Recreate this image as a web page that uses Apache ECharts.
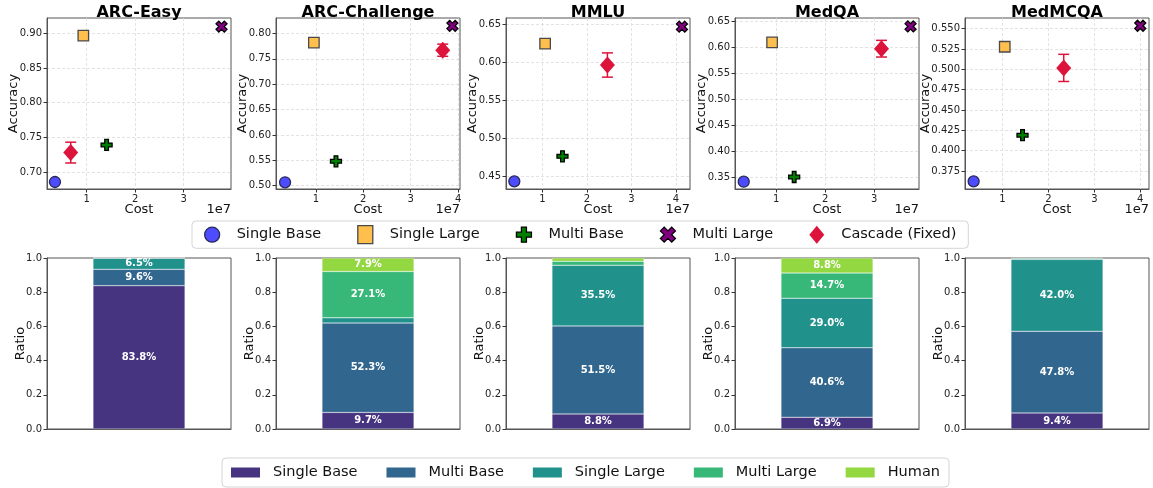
<!DOCTYPE html>
<html><head><meta charset="utf-8">
<script src="https://cdn.jsdelivr.net/npm/echarts@6/dist/echarts.min.js"></script>
<style>html,body{margin:0;padding:0;background:#fff}#c{width:1153px;height:488px}</style>
</head><body><div id="c"></div>
<script>
// ---------- DATA ----------
const datasets = ['ARC-Easy', 'ARC-Challenge', 'MMLU', 'MedQA', 'MedMCQA'];
// cost values are in units of 1e7
const singleBaseCost  = [0.345, 0.350, 0.368, 0.339, 0.373];
const singleBaseAcc   = [0.6856, 0.5066, 0.4430, 0.3423, 0.3622];
const singleLargeCost = [0.930, 0.958, 1.060, 0.918, 1.050];
const singleLargeAcc  = [0.8965, 0.7820, 0.6245, 0.6097, 0.5278];
const multiBaseCost   = [1.410, 1.424, 1.450, 1.368, 1.437];
const multiBaseAcc    = [0.7390, 0.5480, 0.4760, 0.3513, 0.4190];
const multiLargeCost  = [3.780, 3.880, 4.135, 3.743, 4.000];
const multiLargeAcc   = [0.9096, 0.8150, 0.6470, 0.6404, 0.5537];
const cascadeCost     = [0.670, 3.676, 2.460, 3.150, 2.334];
const cascadeAcc      = [0.7280, 0.7670, 0.5964, 0.5976, 0.5018];
const cascadeErr      = [0.0150, 0.0120, 0.0160, 0.0160, 0.0167];

// axis ranges and tick labels
const costMin = [0.181, 0.159, 0.181, 0.161, 0.185];
const costMax = [3.975, 4.040, 4.316, 3.915, 4.190];
const costTicks = [[1, 2, 3], [1, 2, 3, 4], [1, 2, 3, 4], [1, 2, 3], [1, 2, 3, 4]];
const accMin = [0.6755, 0.4934, 0.4329, 0.3283, 0.3528];
const accMax = [0.9220, 0.8305, 0.6584, 0.6565, 0.5632];
const accTicks = [
  [0.70, 0.75, 0.80, 0.85, 0.90],
  [0.50, 0.55, 0.60, 0.65, 0.70, 0.75, 0.80],
  [0.45, 0.50, 0.55, 0.60, 0.65],
  [0.35, 0.40, 0.45, 0.50, 0.55, 0.60, 0.65],
  [0.375, 0.400, 0.425, 0.450, 0.475, 0.500, 0.525, 0.550]
];

// routing ratios
const ratioNames = ['Single Base', 'Multi Base', 'Single Large', 'Multi Large', 'Human'];
const singleBaseRatio  = [0.838, 0.097, 0.088, 0.069, 0.094];
const multiBaseRatio   = [0.096, 0.523, 0.515, 0.406, 0.478];
const singleLargeRatio = [0.065, 0.030, 0.355, 0.290, 0.420];
const multiLargeRatio  = [0.001, 0.271, 0.023, 0.147, 0.006];
const humanRatio       = [0.000, 0.079, 0.019, 0.088, 0.002];
const ratioTicks = [0.0, 0.2, 0.4, 0.6, 0.8, 1.0];

// ---------- STYLE / LAYOUT ----------
const FONT = 'DejaVu Sans';
const gridLeft = [47, 276, 506, 735, 965];
const GW = 184, GH = 171, TOP1 = 18, TOP2 = 258;
const frame = '#555';
const barColors = ['#463480', '#31668e', '#21918c', '#37b878', '#93d741'];
const PLUS = 'path://M-1,-3L1,-3L1,-1L3,-1L3,1L1,1L1,3L-1,3L-1,1L-3,1L-3,-1L-1,-1Z';
const XMARK = 'path://M2,-4L4,-2L2,0L4,2L2,4L0,2L-2,4L-4,2L-2,0L-4,-2L-2,-4L0,-2Z';
const scatterDefs = [
  {name: 'Single Base', symbol: 'circle', size: 11, color: '#4d4dff', border: '#2a2a55', cost: singleBaseCost, acc: singleBaseAcc},
  {name: 'Single Large', symbol: 'rect', size: 10.5, color: '#ffbf4d', border: '#4a4a4a', cost: singleLargeCost, acc: singleLargeAcc},
  {name: 'Multi Base', symbol: PLUS, size: 11, color: '#008000', border: '#000', cost: multiBaseCost, acc: multiBaseAcc},
  {name: 'Multi Large', symbol: XMARK, size: 11, color: '#800080', border: '#000', cost: multiLargeCost, acc: multiLargeAcc}
];
const ratioArrays = [singleBaseRatio, multiBaseRatio, singleLargeRatio, multiLargeRatio, humanRatio];

const grids = [], xAxes = [], yAxes = [], series = [], titles = [];
const tickStyle = {fontSize: 10, color: '#222', fontFamily: FONT};
const nameStyle = {fontSize: 13, color: '#111', fontFamily: FONT};

datasets.forEach((d, i) => {
  grids.push({left: gridLeft[i], top: TOP1, width: GW, height: GH, show: true, borderColor: frame, borderWidth: 1});
  titles.push({text: d, left: gridLeft[i] + GW / 2, top: 5, textAlign: 'center', textVerticalAlign: 'top', padding: 0,
    textStyle: {fontSize: 16, fontWeight: 'bold', color: '#000', fontFamily: FONT}});
  titles.push({text: '1e7', left: gridLeft[i] + GW, top: TOP1 + GH + 14, textAlign: 'right', padding: 0,
    textStyle: {fontSize: 13, fontWeight: 'normal', color: '#111', fontFamily: FONT}});
  xAxes.push({
    type: 'value', gridIndex: i, min: costMin[i], max: costMax[i],
    name: 'Cost', nameLocation: 'middle', nameGap: 14, nameMoveOverlap: false, nameTextStyle: nameStyle,
    axisLine: {show: true, lineStyle: {color: frame}},
    axisTick: {show: true, length: 3.5, customValues: costTicks[i], lineStyle: {color: '#333'}},
    axisLabel: {customValues: costTicks[i], margin: 5, ...tickStyle, formatter: v => String(v)},
    splitLine: {show: true, lineStyle: {type: [3, 2], color: '#dcdcdc', width: 0.8}}
  });
  const dec = accTicks[i][0].toString().split('.')[1].length > 2 ? 3 : 2;
  yAxes.push({
    type: 'value', gridIndex: i, min: accMin[i], max: accMax[i],
    name: 'Accuracy', nameLocation: 'middle', nameGap: dec === 3 ? 33 : 27, nameRotate: 90,
    nameMoveOverlap: false, nameTextStyle: nameStyle,
    axisLine: {show: true, lineStyle: {color: frame}},
    axisTick: {show: true, length: 3.5, customValues: accTicks[i], lineStyle: {color: '#333'}},
    axisLabel: {customValues: accTicks[i], margin: 5, ...tickStyle, formatter: v => v.toFixed(dec)},
    splitLine: {show: true, lineStyle: {type: [3, 2], color: '#dcdcdc', width: 0.8}}
  });
  scatterDefs.forEach(s => {
    series.push({
      type: 'scatter', name: s.name, xAxisIndex: i, yAxisIndex: i,
      symbol: s.symbol, symbolSize: s.size, z: 3,
      itemStyle: {color: s.color, borderColor: s.border, borderWidth: 1.3, opacity: 1},
      data: [[s.cost[i], s.acc[i]]]
    });
  });
  series.push({
    type: 'custom', name: 'Cascade error', xAxisIndex: i, yAxisIndex: i, z: 2,
    data: [[cascadeCost[i], cascadeAcc[i], cascadeErr[i]]],
    encode: {x: 0, y: 1},
    renderItem: (params, api) => {
      const x = api.value(0), y = api.value(1), e = api.value(2);
      const p1 = api.coord([x, y + e]), p2 = api.coord([x, y - e]);
      const hw = 5.5, st = {stroke: '#dc143c', lineWidth: 1.5};
      return {type: 'group', children: [
        {type: 'line', shape: {x1: p1[0], y1: p1[1], x2: p2[0], y2: p2[1]}, style: st},
        {type: 'line', shape: {x1: p1[0] - hw, y1: p1[1], x2: p1[0] + hw, y2: p1[1]}, style: st},
        {type: 'line', shape: {x1: p2[0] - hw, y1: p2[1], x2: p2[0] + hw, y2: p2[1]}, style: st}
      ]};
    }
  });
  series.push({
    type: 'scatter', name: 'Cascade (Fixed)', xAxisIndex: i, yAxisIndex: i, z: 4,
    symbol: 'diamond', symbolSize: [15, 17],
    itemStyle: {color: '#dc143c', borderWidth: 0, opacity: 1},
    data: [[cascadeCost[i], cascadeAcc[i]]]
  });
});

datasets.forEach((d, i) => {
  const gi = 5 + i;
  grids.push({left: gridLeft[i], top: TOP2, width: GW, height: GH, show: true, borderColor: frame, borderWidth: 1});
  xAxes.push({
    type: 'category', gridIndex: gi, data: [d],
    axisLine: {show: true, lineStyle: {color: frame}}, axisTick: {show: false}, axisLabel: {show: false}, splitLine: {show: false}
  });
  yAxes.push({
    type: 'value', gridIndex: gi, min: 0, max: 1,
    name: 'Ratio', nameLocation: 'middle', nameGap: 20, nameRotate: 90, nameMoveOverlap: false, nameTextStyle: nameStyle,
    axisLine: {show: true, lineStyle: {color: frame}},
    axisTick: {show: true, length: 3.5, customValues: ratioTicks, lineStyle: {color: '#333'}},
    axisLabel: {customValues: ratioTicks, margin: 5, ...tickStyle, formatter: v => v.toFixed(1)},
    splitLine: {show: false}
  });
  ratioNames.forEach((n, k) => {
    series.push({
      type: 'bar', name: n, xAxisIndex: gi, yAxisIndex: gi, stack: 'r' + i, barWidth: '50%',
      itemStyle: {color: barColors[k], borderColor: 'rgba(255,255,255,0.5)', borderWidth: 0.5},
      label: {show: true, position: 'inside', color: '#fff', fontWeight: 'bold', fontSize: 10, fontFamily: FONT,
        formatter: p => p.value >= 0.05 ? (p.value * 100).toFixed(1) + '%' : ''},
      data: [ratioArrays[k][i]]
    });
  });
});

const legendText = {fontSize: 14.5, color: '#111', fontFamily: FONT};
const option = {
  animation: false,
  backgroundColor: '#fff',
  title: titles,
  grid: grids,
  xAxis: xAxes,
  yAxis: yAxes,
  legend: [
    {
      left: 192, top: 221, orient: 'horizontal', itemWidth: 15, itemHeight: 18, itemGap: 36,
      padding: [4, 12, 4, 12], borderColor: '#d5d5d5', borderWidth: 1, borderRadius: 4,
      textStyle: {...legendText, padding: [0, 0, 0, 12]},
      selectedMode: false,
      data: [
        {name: 'Single Base', icon: 'circle', itemStyle: {color: '#4d4dff', borderColor: '#2a2a55', borderWidth: 1.3}},
        {name: 'Single Large', icon: 'rect', itemStyle: {color: '#ffbf4d', borderColor: '#4a4a4a', borderWidth: 1.3}},
        {name: 'Multi Base', icon: PLUS, itemStyle: {color: '#008000', borderColor: '#000', borderWidth: 1.3}},
        {name: 'Multi Large', icon: XMARK, itemStyle: {color: '#800080', borderColor: '#000', borderWidth: 1.3}},
        {name: 'Cascade (Fixed)', icon: 'diamond', itemStyle: {color: '#dc143c', borderWidth: 0}}
      ]
    },
    {
      left: 222, top: 458, orient: 'horizontal', itemWidth: 29, itemHeight: 10, itemGap: 29,
      padding: [7, 9, 7, 9], borderColor: '#d5d5d5', borderWidth: 1, borderRadius: 4,
      textStyle: {...legendText, padding: [0, 0, 0, 8]},
      selectedMode: false,
      data: ratioNames.map((n, k) => ({name: n, icon: 'rect', itemStyle: {color: barColors[k], borderWidth: 0}}))
    }
  ],
  series: series
};
const chart = echarts.init(document.getElementById('c'));
chart.setOption(option);
</script>
</body></html>
